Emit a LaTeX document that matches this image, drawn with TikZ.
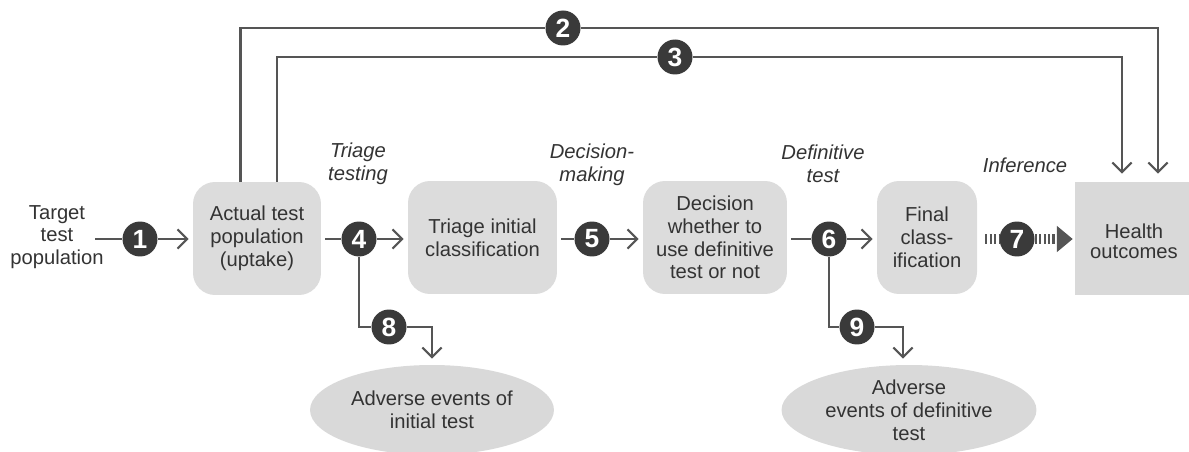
\documentclass[tikz,border=0pt]{standalone}
\usepackage{fontspec}
\setmainfont{Liberation Sans}
\usetikzlibrary{arrows.meta,shapes.geometric}
\definecolor{boxgray}{HTML}{DCDCDC}
\definecolor{ellgray}{HTML}{D9D9D9}
\definecolor{numdark}{HTML}{3A3A3A}
\definecolor{linegray}{HTML}{555555}
\definecolor{txtgray}{HTML}{333333}
\tikzset{
  box/.style={draw=none, fill=boxgray, rounded corners=0.44cm, align=center, text=txtgray,
    font=\fontsize{11.5}{13}\selectfont, minimum height=2.26cm, inner sep=0pt},
  hobox/.style={draw=none, fill=ellgray, align=center, text=txtgray,
    font=\fontsize{11.5}{11.5}\selectfont, minimum height=2.26cm, minimum width=2.36cm, inner sep=0pt},
  ell/.style={ellipse, draw=none, fill=ellgray, align=center, text=txtgray,
    font=\fontsize{11.5}{13}\selectfont, inner sep=0pt},
  num/.style={circle, fill=numdark, text=white, minimum size=0.7cm, inner sep=0pt,
    font=\fontsize{15}{15}\selectfont\bfseries},
  lab/.style={align=center, text=txtgray, font=\fontsize{11.5}{13}\selectfont\itshape},
  plain/.style={align=center, text=txtgray, font=\fontsize{11.5}{13}\selectfont},
  conn/.style={draw=linegray, line width=1.2pt},
  arr/.style={conn, -{Straight Barb[length=5.5pt,width=11pt]}, shorten >=0.08cm},
  dashconn/.style={draw=linegray, line width=6pt, dash pattern=on 1.2pt off 1.3pt},
}
\begin{document}
\begin{tikzpicture}[x=0.02cm,y=-0.02cm]
\useasboundingbox (0,0) rectangle (1189,452);
% boxes
\node[box, minimum width=2.56cm] (b1) at (257,238.5) {Actual test\\population\\(uptake)};
\node[box, minimum width=2.98cm] (b2) at (482.5,237.5) {Triage initial\\classification};
\node[box, minimum width=2.88cm] (b3) at (715,237.5) {Decision\\whether to\\use definitive\\test or not};
\node[box, minimum width=2.0cm] (b4) at (927,237.5) {Final\\class-\\ification};
\node[hobox] (ho) at (1134,238.5) {\raisebox{-3.4pt}[\height][\depth]{\begin{tabular}{@{}c@{}}Health\\outcomes\end{tabular}}};
\node[ell, minimum width=4.88cm, minimum height=1.8cm] (e1) at (432,410) {Adverse events of\\initial test};
\node[ell, minimum width=5.1cm, minimum height=1.8cm] (e2) at (909,410) {Adverse\\events of definitive\\test};
% texts
\node[plain] (tgt) at (57,237) {Target\\test\\population};
\node[lab] (l4) at (358,164) {Triage\\testing};
\node[lab] (l5) at (592,165) {Decision-\\making};
\node[lab] (l6) at (823,164) {Definitive\\test};
\node[lab] (l7) at (1025,165) {Inference};
% numbered circles
\node[num] (n1) at (140,239) {1};
\node[num] (n2) at (563,28) {2};
\node[num] (n3) at (675,57) {3};
\node[num] (n4) at (359,239) {4};
\node[num] (n5) at (592,239) {5};
\node[num] (n6) at (829,239) {6};
\node[num] (n7) at (1017,239) {7};
\node[num] (n8) at (389,327) {8};
\node[num] (n9) at (857,327) {9};
\coordinate (t1) at (95,239);
% main chain
\draw[conn] (t1) -- (n1.west);
\draw[arr] (n1.east) -- (b1.west |- n1);
\draw[conn, shorten <=0.08cm] (b1.east |- n4) -- (n4.west);
\draw[arr] (n4.east) -- (b2.west |- n4);
\draw[conn, shorten <=0.08cm] (b2.east |- n5) -- (n5.west);
\draw[arr] (n5.east) -- (b3.west |- n5);
\draw[conn, shorten <=0.08cm] (b3.east |- n6) -- (n6.west);
\draw[arr] (n6.east) -- (b4.west |- n6);
\draw[dashconn, shorten <=0.16cm] (b4.east |- n7) -- (n7.west);
\draw[dashconn, -{Triangle[length=9pt,width=15pt,line width=0pt]}, shorten >=0.04cm] (n7.east) -- (ho.west |- n7);
% upper feedback paths
\draw[conn] ([xshift=-0.33cm]b1.north) |- (n2.west);
\draw[arr, shorten >=0.16cm] (n2.east) -| ([xshift=0.48cm]ho.north);
\draw[conn] ([xshift=0.4cm]b1.north) |- (n3.west);
\draw[arr, shorten >=0.16cm] (n3.east) -| ([xshift=-0.24cm]ho.north);
% adverse event branches
\draw[conn] (n4.south) |- (n8.west);
\draw[arr, shorten >=0.12cm] (n8.east) -| (e1.north);
\draw[conn] (n6.south) |- (n9.west);
\draw[arr, shorten >=0.12cm] (n9.east) -| ([xshift=-0.12cm]e2.north);
\end{tikzpicture}
\end{document}
